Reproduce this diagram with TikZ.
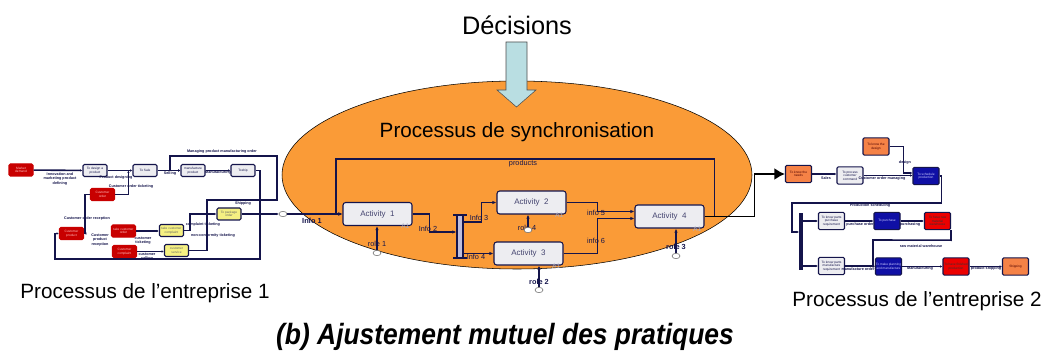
\documentclass[tikz,border=0pt]{standalone}
\usepackage{tikz}
\usetikzlibrary{shapes.geometric, arrows.meta, positioning, calc}
\usepackage{fontspec}
\setmainfont{Liberation Sans}
\newfontfamily\narrowsans[FakeStretch=0.9]{Liberation Sans}
\usepackage{xcolor}
\definecolor{navy}{RGB}{20, 20, 75}
\definecolor{syncorange}{RGB}{250, 155, 55}
\definecolor{decblue}{RGB}{185, 222, 226}
\definecolor{actfill}{RGB}{237, 237, 241}
\definecolor{barfill}{RGB}{190, 190, 220}
\definecolor{darkred}{RGB}{200, 0, 0}
\definecolor{brightred}{RGB}{235, 0, 0}
\definecolor{procblue}{RGB}{15, 15, 165}
\definecolor{procorange}{RGB}{245, 130, 70}
\definecolor{procyellow}{RGB}{245, 240, 130}

\begin{document}
\begin{tikzpicture}[
  x=0.75pt, y=-0.75pt,
  activity/.style={rectangle, draw=navy, fill=actfill, thick, rounded corners=2pt,
              minimum width=51.75pt, minimum height=17.25pt, inner sep=0pt,
              font=\fontsize{6}{7}\selectfont, text=navy!80},
  atag/.style={font=\fontsize{5}{5}\selectfont, text=navy!35, inner sep=0pt},
  info/.style={font=\fontsize{5.5}{6}\selectfont, text=navy, inner sep=0pt},
  infob/.style={font=\fontsize{5.5}{6}\selectfont\bfseries, text=navy, inner sep=0pt},
  roleoval/.style={ellipse, draw=black!60, fill=white, thin,
              minimum width=6pt, minimum height=4pt, inner sep=0pt},
  andbar/.style={rectangle, draw=navy, fill=barfill, thick,
              minimum width=4.5pt, minimum height=32pt, inner sep=0pt},
  barcap/.style={draw=navy, line width=1.6pt},
  flow/.style={-{Latex[length=3pt,width=2.5pt]}, draw=navy, line width=0.9pt},
  bigflow/.style={-{Latex[length=8pt,width=9pt]}, draw=black, line width=1.4pt},
  pflow/.style={-{Latex[length=1.8pt,width=1.8pt]}, draw=navy, line width=1.2pt},
  sbox/.style={rectangle, draw=navy, thick, rounded corners=1pt, align=center,
              minimum width=18pt, minimum height=9pt, inner sep=0pt,
              font=\fontsize{2.4}{2.6}\selectfont},
  whitebox/.style={sbox, fill=actfill, text=navy},
  redbox/.style={sbox, fill=darkred, draw=darkred, text=red!25},
  yellowbox/.style={sbox, fill=procyellow, text=black!60},
  rbox/.style={sbox, minimum width=19.5pt, minimum height=13pt},
  rwhite/.style={rbox, fill=actfill, text=navy},
  rblue/.style={rbox, fill=procblue, text=white!80!blue},
  rred/.style={rbox, fill=brightred, text=black!80},
  rorange/.style={rbox, fill=procorange, text=black!70!red},
  plbl/.style={font=\fontsize{2.8}{3.1}\selectfont\bfseries, text=navy,
              inner sep=0pt, align=center},
  big/.style={font=\fontsize{15.5}{18}\selectfont},
]
  \useasboundingbox (0,0) rectangle (1046,356);

  % Synchronisation process (ellipse)
  \node[ellipse, draw=black, fill=syncorange, thin, minimum width=352.5pt,
        minimum height=141pt] (sync) at (517,175) {};
  \node[big] (syncTitle) at (517,132) {Processus de synchronisation};

  % Decisions
  \node[font=\fontsize{19}{22}\selectfont] (dec) at (517,25) {Décisions};
  \draw[draw=black!70, fill=decblue, thin] (506,42) -- (527,42) -- (527,90)
    -- (536,90) -- (516.5,107) -- (497,90) -- (506,90) -- cycle;

  % Activities
  \node[activity] (act1) at (377.5,214) {Activity\ \ 1};
  \node[activity] (act2) at (531.5,202.5) {Activity\ \ 2};
  \node[activity] (act3) at (528.5,253.5) {Activity\ \ 3};
  \node[activity] (act4) at (669.5,216.5) {Activity\ \ 4};
  \foreach \a in {1,2,3,4}
    \node[atag] at ([xshift=-5.5pt,yshift=-0.5pt]act\a.south east) {A1};

  % AND split
  \node[andbar] (bar) at (460,236.5) {};
  \draw[barcap] ([xshift=-2.5pt]bar.north west) -- ([xshift=2.5pt]bar.north east);
  \draw[barcap] ([xshift=-2.5pt]bar.south west) -- ([xshift=2.5pt]bar.south east);

  % Labels
  \node[info] (products) at (523,164) {products};
  \node[infob] (lInfo1) at (312,221) {Info 1};
  \node[info] (lInfo2) at (428,229) {Info 2};
  \node[info] (lInfo3) at (479,218) {Info 3};
  \node[info] (lInfo4) at (476,257) {Info 4};
  \node[info] (lInfo5) at (596,213) {info 5};
  \node[info] (lInfo6) at (596,241) {info 6};
  \node[info] (lRole1) at (377,244) {role 1};
  \node[info] (lRole4) at (527,228) {role 4};
  \node[infob] (lRole2) at (539,282) {role 2};
  \node[infob] (lRole3) at (676,247) {role 3};

  % Roles / entry
  \node[roleoval] (in1) at (283,214) {};
  \node[roleoval] (role1) at (377,253) {};
  \node[roleoval] (role4) at (528,230) {};
  \node[roleoval] (role2) at (539,290) {};
  \node[roleoval] (role3) at (676,256) {};

  % Inner flows
  \coordinate (loopTL) at (336,159);
  \draw[flow] (act4.east) -- ++(10,0) |- (loopTL) |- (act1.west);
  \draw[flow] (in1.east) -- (act1.west);
  \draw[flow] (act1.east) -- ++(17,0) |- ($(bar.west)+(0,-4.5)$);
  \draw[flow] ($(bar.east)+(0,-14.5)$) -- ++(18,0) |- (act2.west);
  \draw[flow] (bar.east |- act3.west) -- (act3.west);
  \draw[flow] (act2.east) -- ++(31,0) |- ($(act4.west)+(0,-5)$);
  \draw[flow] (act3.east) -- ++(34,0) |- ($(act4.west)+(0,2)$);
  \draw[flow] (role1.north) -- (role1.north |- act1.south);
  \draw[flow] (role4.north) -- (role4.north |- act2.south);
  \draw[flow] (role2.north) -- (role2.north |- act3.south);
  \draw[flow] (role3.north) -- (role3.north |- act4.south);

  % Enterprise 1
  \node[redbox] (rA) at (21,170) {Market\\demand};
  \node[whitebox] (design1) at (95,170.5) {To design a\\product};
  \node[whitebox] (sale) at (145,170.5) {To Sale};
  \node[whitebox] (manu) at (193,170.5) {manufacture\\product};
  \node[whitebox] (ship1) at (243,170.5) {Toship};
  \node[redbox] (rB) at (102.5,194.5) {Customer\\order};
  \node[yellowbox] (pack) at (229,214) {To package\\order};
  \node[redbox] (rC) at (71.5,233.5) {Customer\\product};
  \node[redbox] (rD) at (123.5,231) {take customer\\order};
  \node[yellowbox] (take) at (171.5,230.5) {take customer\\complaint};
  \node[redbox] (rE) at (124.5,251.5) {Customer\\complaint};
  \node[yellowbox] (serv) at (176.5,250.5) {customer\\service};

  \coordinate (lTopR) at (277,156);
  \coordinate (lTopL) at (170,156);
  \coordinate (lMid) at (207,200);
  \coordinate (lBotR) at (260,259);
  \coordinate (lBotL) at (55,259);
  \draw[pflow] (rA) -- (design1);
  \draw[pflow] (design1) -- (sale);
  \draw[pflow] (sale) -- (manu);
  \draw[pflow] (manu) -- (ship1);
  \draw[pflow] (serv.east) -| (lMid) -| (lTopR) -- (lTopL) |- (manu.west);
  \draw[pflow] (take.east) -- ++(6,0) |- (pack.west);
  \draw[pflow] (pack.east) -- (in1.west);
  \draw[pflow] (ship1.east) -| (lBotR) -- (lBotL) |- (rC.west);
  \draw[pflow] (rB.east) -| ($(sale.west)+(-4,0)$);
  \draw[pflow] (rB.west) -- ++(-5,0) |- (rC.east);
  \draw[pflow] (rD.east) -- (rD.east -| take.west);
  \draw[pflow] (rE.east) -- (rE.east -| serv.west);

  \node[plbl] at (60,179) {Innovation and\\marketing product\\defining};
  \node[plbl] at (116,178) {Product designing};
  \node[plbl] at (170,174) {Selling};
  \node[plbl] at (218,173) {Manufacturing};
  \node[plbl] at (222,152) {Managing product manufacturing order};
  \node[plbl] at (131,187) {Customer order ticketing};
  \node[plbl] at (87,219) {Customer order reception};
  \node[plbl] at (100,240) {Customer\\product\\reception};
  \node[plbl] at (143,241) {customer\\ticketing};
  \node[plbl] at (147,257) {customer\\calling};
  \node[plbl] at (203,225) {complaint ticketing};
  \node[plbl] at (213,236) {non-conformity ticketing};
  \node[plbl] at (243,204) {Shipping};

  % Enterprise 2
  \node[rorange] (know) at (798.5,174) {To know the\\needs};
  \node[rorange] (design2) at (876,146.5) {To know the\\design};
  \node[rwhite] (proc) at (850,175.5) {To process\\customer\\command};
  \node[rblue] (sched) at (926,176) {To schedule\\production};
  \node[rwhite] (purreq) at (831.5,221) {To know parts\\purchase\\requirement};
  \node[rblue] (pur) at (887,221) {To purchase};
  \node[rred] (raw) at (937.5,221) {To have raw\\material\\warehouse};
  \node[rwhite] (manreq) at (831.5,266) {To know parts\\manufacture\\requirement};
  \node[rblue] (make) at (888.5,266.5) {To make planning\\and manufacture};
  \node[rred] (fin) at (956,266.5) {To have finished\\production};
  \node[rorange] (ship2) at (1015.5,266.5) {Shipping};
  \node[rectangle, fill=navy, minimum width=3pt, minimum height=42.75pt,
        inner sep=0pt] (barR) at (801,241.5) {};

  \coordinate (rLoopL) at (792,203);
  \coordinate (rBarIn) at (799,232);
  \coordinate (rMidL) at (873,240);
  \draw[bigflow] (act4.east) -- ++(50,0) |- (know.west);
  \draw[pflow] (know.east) -- (know.east -| proc.west);
  \draw[pflow] (proc.east) -- (proc.east -| sched.west);
  \draw[pflow] (design2.east) -- ++(14,0) |- ($(sched.west)+(0,-3)$);
  \draw[pflow] (sched.east) -- ++(2,0) |- (rLoopL) |- (rBarIn);
  \draw[pflow] (barR.east |- purreq.west) -- (purreq.west);
  \draw[pflow] (barR.east |- manreq.west) -- (manreq.west);
  \draw[pflow] (purreq.east) -- (purreq.east -| pur.west);
  \draw[pflow] (pur.east) -- (pur.east -| raw.west);
  \draw[pflow] (raw.south east) -- ++(0,10) -- (rMidL) |- (make.west);
  \draw[pflow] (manreq.east) -- (manreq.east -| make.west);
  \draw[pflow] (make.east) -- (make.east -| fin.west);
  \draw[pflow] (fin.east) -- (fin.east -| ship2.west);

  \node[plbl] at (826,178) {Sales};
  \node[plbl] at (882,179) {Customer order managing};
  \node[plbl] at (905,163) {design};
  \node[plbl] at (870,206) {Production scheduling};
  \node[plbl] at (860,225) {purchase order};
  \node[plbl] at (910,225) {purchasing};
  \node[plbl] at (921,246) {raw material warehouse};
  \node[plbl] at (858,269) {manufacture order};
  \node[plbl] at (920,269) {Manufacturing};
  \node[plbl] at (986,269) {product shipping};

  % Captions
  \node[big] (ent1) at (145,293) {Processus de l’entreprise 1};
  \node[big] (ent2) at (917,301) {Processus de l’entreprise 2};
  \node[font=\narrowsans\fontsize{22}{24}\selectfont\bfseries\itshape] (caption)
    at (505,337) {(b) Ajustement mutuel des pratiques};
\end{tikzpicture}
\end{document}
